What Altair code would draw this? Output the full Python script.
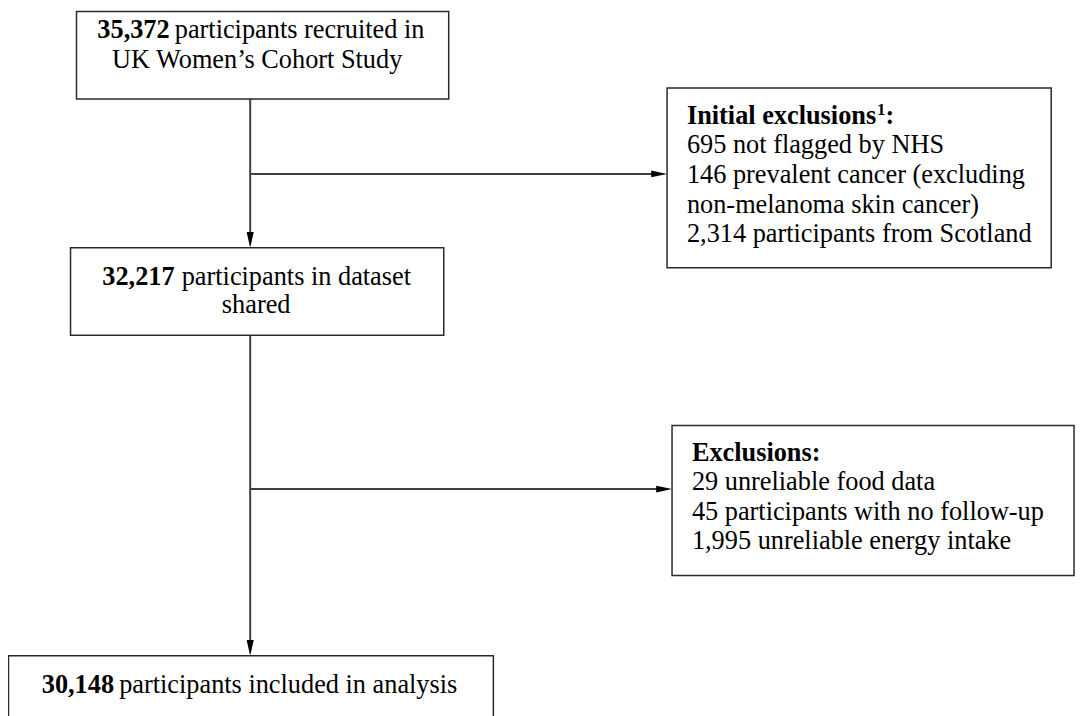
import altair as alt
import pandas as pd

# ---------------- content ----------------
main_counts = ["35,372", "32,217", "30,148"]
main_line1 = ["participants recruited in", "participants in dataset", "participants included in analysis"]
main_line2 = ["UK Women\u2019s Cohort Study", "shared", ""]
excl_headers = ["Initial exclusions", "Exclusions:"]
excl1_items = ["695 not flagged by NHS", "146 prevalent cancer (excluding",
               "non-melanoma skin cancer)", "2,314 participants from Scotland"]
excl2_items = ["29 unreliable food data", "45 participants with no follow-up",
               "1,995 unreliable energy intake"]
footnote_mark = "1"

# ---------------- layout (reference pixel space) ----------------
W, H = 1087, 716
FS = 26.5
LINE = 29.8
box_x = [77, 71, 672, 677, 8.5]
box_x2 = [452, 447, 1059, 1082, 497]
box_y = [9, 247, 86, 426, 658]
box_y2 = [97, 335, 267, 577, 760]
# main boxes: bold count left x, rest left x, line1 baseline, line2 center x, line2 baseline
count_x = [98, 103, 42]
rest_x = [176, 183, 120]
line1_y = [36, 284, 695]
line2_cx = [259, 258, 0]
line2_y = [65.5, 313, 0]
excl_text_x = [692, 697]
excl_head_y = [122, 461.5]
spine_x = 252
branch_y = [172.5, 490]
branch_end = [672, 677]

boxes = pd.DataFrame({"x": box_x, "x2": box_x2, "y": box_y, "y2": box_y2})

rules = pd.DataFrame({
    "x": [spine_x, spine_x, spine_x, spine_x],
    "x2": [spine_x, spine_x, branch_end[0] - 10, branch_end[1] - 10],
    "y": [box_y2[0], box_y2[1], branch_y[0], branch_y[1]],
    "y2": [box_y[1] - 8, box_y[4] - 8, branch_y[0], branch_y[1]],
})

down_heads = pd.DataFrame({"x": [spine_x, spine_x], "y": [box_y[1] - 8, box_y[4] - 8]})
right_heads = pd.DataFrame({"x": [branch_end[0] - 8, branch_end[1] - 8], "y": branch_y})

bold_rows, reg_rows, reg_center_rows = [], [], []
for i in range(3):
    bold_rows.append({"x": count_x[i], "y": line1_y[i], "t": main_counts[i]})
    reg_rows.append({"x": rest_x[i], "y": line1_y[i], "t": main_line1[i]})
    if main_line2[i]:
        reg_center_rows.append({"x": line2_cx[i], "y": line2_y[i], "t": main_line2[i]})
bold_rows.append({"x": excl_text_x[0], "y": excl_head_y[0], "t": excl_headers[0]})
bold_rows.append({"x": 892, "y": excl_head_y[0], "t": ":"})
bold_rows.append({"x": excl_text_x[1], "y": excl_head_y[1], "t": excl_headers[1]})
for j, s in enumerate(excl1_items):
    reg_rows.append({"x": excl_text_x[0], "y": excl_head_y[0] + LINE * (j + 1), "t": s})
for j, s in enumerate(excl2_items):
    reg_rows.append({"x": excl_text_x[1], "y": excl_head_y[1] + LINE * (j + 1), "t": s})
sup_rows = [{"x": 883.5, "y": excl_head_y[0] - 9, "t": footnote_mark}]

bold_df = pd.DataFrame(bold_rows)
reg_df = pd.DataFrame(reg_rows)
regc_df = pd.DataFrame(reg_center_rows)
sup_df = pd.DataFrame(sup_rows)

xs = alt.Scale(domain=[8, W - 8], nice=False, zero=False)
ys = alt.Scale(domain=[8, H - 8], nice=False, zero=False, reverse=True)
X = lambda f: alt.X(f, type="quantitative", scale=xs, axis=None)
Y = lambda f: alt.Y(f, type="quantitative", scale=ys, axis=None)

box_layer = alt.Chart(boxes).mark_rect(fill="white", stroke="#2a2a2a", strokeWidth=1.5, clip=False).encode(
    x=X("x"), x2="x2", y=Y("y"), y2="y2")

rule_layer = alt.Chart(rules).mark_rule(color="#404040", strokeWidth=2, clip=False).encode(
    x=X("x"), x2="x2", y=Y("y"), y2="y2")

down_layer = alt.Chart(down_heads).mark_point(
    shape="M-0.45,-1L0.45,-1L0,1Z", filled=True, size=256, color="black", opacity=1, strokeWidth=0
).encode(x=X("x"), y=Y("y"))

right_layer = alt.Chart(right_heads).mark_point(
    shape="M-1,-0.42L1,0L-1,0.42Z", filled=True, size=256, color="black", opacity=1, strokeWidth=0
).encode(x=X("x"), y=Y("y"))

font = "Liberation Serif"
bold_layer = alt.Chart(bold_df).mark_text(
    font=font, fontSize=FS, fontWeight="bold", align="left", baseline="alphabetic", color="black"
).encode(x=X("x"), y=Y("y"), text="t:N")

reg_layer = alt.Chart(reg_df).mark_text(
    font=font, fontSize=FS, align="left", baseline="alphabetic", color="black"
).encode(x=X("x"), y=Y("y"), text="t:N")

regc_layer = alt.Chart(regc_df).mark_text(
    font=font, fontSize=FS, align="center", baseline="alphabetic", color="black"
).encode(x=X("x"), y=Y("y"), text="t:N")

sup_layer = alt.Chart(sup_df).mark_text(
    font=font, fontSize=17, fontWeight="bold", align="left", baseline="alphabetic", color="black"
).encode(x=X("x"), y=Y("y"), text="t:N")

chart = alt.layer(
    rule_layer, box_layer, down_layer, right_layer, bold_layer, reg_layer, regc_layer, sup_layer
).properties(
    width=W - 16, height=H - 16,
    autosize=alt.AutoSizeParams(type="none"),
    padding={"left": 0, "top": 0, "right": 8, "bottom": 8},
    background="white",
).configure_view(strokeWidth=0)

chart.save("out.html", embed_options={"renderer": "svg", "actions": False})
